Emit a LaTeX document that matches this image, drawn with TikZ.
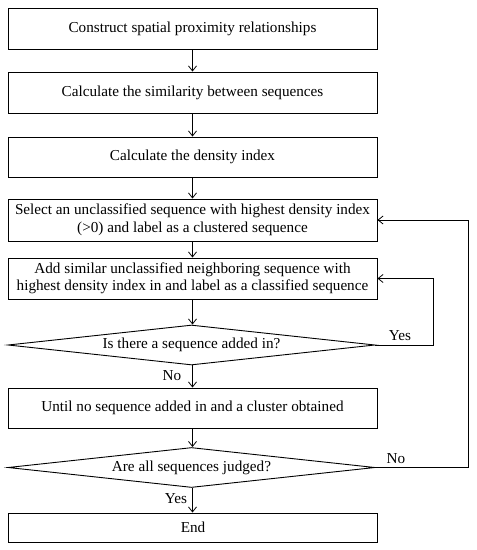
\documentclass[tikz,border=0pt]{standalone}
\usepackage{fontspec}
\setmainfont{Liberation Serif}
\usetikzlibrary{shapes.geometric,arrows.meta}
\begin{document}
\begin{tikzpicture}[x=1pt,y=-1pt,
  every node/.style={font=\fontsize{15.2}{17.5}\selectfont},
  procbox/.style={draw,line width=0.9pt,minimum width=369pt,inner sep=0pt,align=center},
  decision/.style={draw,line width=0.9pt,diamond,aspect=9.2,minimum width=367pt,minimum height=40pt,inner sep=0pt},
  conn/.style={line width=0.8pt,-{Straight Barb[length=5pt,width=8pt]}},
  lbl/.style={inner sep=1pt}]
\useasboundingbox (0,0) rectangle (477,550);
\node[procbox,minimum height=41pt] (b1) at (192.5,28.5) {Construct spatial proximity relationships};
\node[procbox,minimum height=41pt] (b2) at (192.5,92.5) {Calculate the similarity between sequences};
\node[procbox,minimum height=40pt] (b3) at (192.5,157) {Calculate the density index};
\node[procbox,minimum height=42pt] (b4) at (192.5,220) {Select an unclassified sequence with highest density index\\(>0) and label as a clustered sequence};
\node[procbox,minimum height=41pt] (b5) at (192.5,278.5) {Add similar unclassified neighboring sequence with\\highest density index in and label as a classified sequence};
\node[decision] (d1) at (191.5,345) {Is there a sequence added in?};
\node[procbox,minimum height=40pt] (b6) at (192.5,408) {Until no sequence added in and a cluster obtained};
\node[decision] (d2) at (191.5,467.5) {Are all sequences judged?};
\node[procbox,minimum height=29pt] (b7) at (193,527.5) {End};
\coordinate (r1) at (433,345);
\coordinate (r2) at (468,467.5);
\draw[conn] (b1.south -| 192.5,0) -- (b2.north -| 192.5,0);
\draw[conn] (b2) -- (b3);
\draw[conn] (b3) -- (b4);
\draw[conn] (b4) -- (b5);
\draw[conn] (b5.south) -- (d1.north -| b5.south);
\draw[conn] (d1.east) -- (r1) |- (b5.east);
\draw[conn] (d1.south -| b5.south) -- (b6.north);
\draw[conn] (b6.south) -- (d2.north -| b6.south);
\draw[conn] (d2.east) -- (r2) |- (b4.east);
\draw[conn] (d2.south -| b6.south) -- (b7.north -| b6.south);
\node[lbl] (y1) at (400,336) {Yes};
\node[lbl] (n1) at (172,376) {No};
\node[lbl] (n2) at (396,459) {No};
\node[lbl] (y2) at (176,499) {Yes};
\end{tikzpicture}
\end{document}
